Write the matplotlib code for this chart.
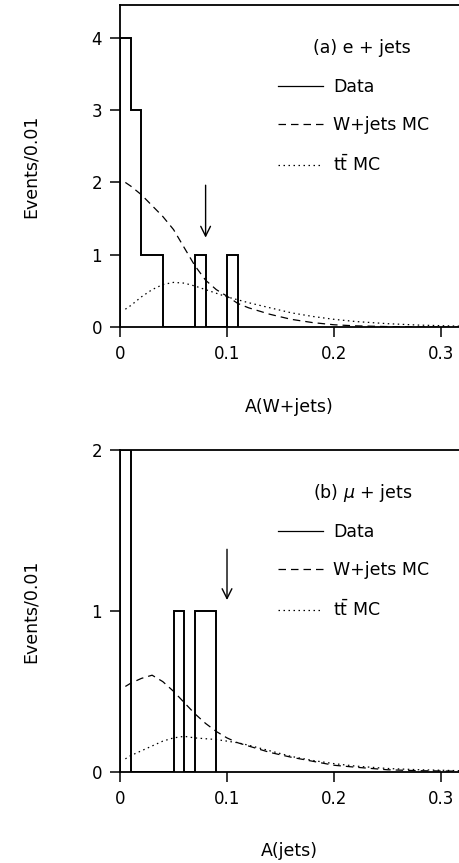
import matplotlib
matplotlib.use("Agg")
import matplotlib.pyplot as plt
from matplotlib.lines import Line2D

plt.rcParams['font.family'] = ['DejaVu Sans']
plt.rcParams['mathtext.fontset'] = 'dejavusans'

# histogram bins (width 0.01)
bin_edges_e = [0.0, 0.01, 0.02, 0.03, 0.04, 0.05, 0.06, 0.07, 0.08, 0.09, 0.10, 0.11]
counts_e = [4, 3, 1, 1, 0, 0, 0, 1, 0, 0, 1]
bin_edges_mu = [0.0, 0.01, 0.02, 0.03, 0.04, 0.05, 0.06, 0.07, 0.08, 0.09]
counts_mu = [2, 0, 0, 0, 0, 1, 0, 1, 1]

# MC curves
mc_x = [0.005, 0.01, 0.02, 0.03, 0.04, 0.05, 0.06, 0.07, 0.08, 0.09, 0.10,
        0.11, 0.12, 0.14, 0.16, 0.18, 0.20, 0.22, 0.25, 0.28, 0.32]
wjets_e = [2.0, 1.95, 1.83, 1.68, 1.53, 1.35, 1.1, 0.85, 0.65, 0.52, 0.43,
           0.33, 0.27, 0.18, 0.11, 0.065, 0.035, 0.02, 0.01, 0.005, 0.002]
ttbar_e = [0.25, 0.3, 0.42, 0.52, 0.59, 0.62, 0.61, 0.57, 0.52, 0.47, 0.42,
           0.38, 0.34, 0.27, 0.2, 0.15, 0.11, 0.08, 0.05, 0.03, 0.015]
wjets_mu = [0.53, 0.55, 0.58, 0.60, 0.56, 0.50, 0.43, 0.36, 0.30, 0.25, 0.21,
            0.18, 0.16, 0.12, 0.09, 0.065, 0.04, 0.028, 0.012, 0.006, 0.003]
ttbar_mu = [0.08, 0.1, 0.13, 0.16, 0.19, 0.21, 0.22, 0.21, 0.205, 0.2, 0.19,
            0.18, 0.165, 0.13, 0.095, 0.07, 0.05, 0.035, 0.02, 0.012, 0.006]

# cut positions (arrows)
cut_e = 0.08
cut_mu = 0.10

fig = plt.figure(figsize=(4.59, 8.63), dpi=100)
W, H = 459, 863
ax1 = fig.add_axes([120 / W, 1 - 327.3 / H, 339 / W, 322.3 / H])
ax2 = fig.add_axes([120 / W, 1 - 771.7 / H, 339 / W, 321.7 / H])

dash = (0, (6, 4))
dot = (0, (1.2, 2.8))

panels = [
    (ax1, bin_edges_e, counts_e, wjets_e, ttbar_e, 4.45, [0, 1, 2, 3, 4],
     '(a) e + jets', 'A(W+jets)', cut_e, (2.0, 1.2)),
    (ax2, bin_edges_mu, counts_mu, wjets_mu, ttbar_mu, 2.0, [0, 1, 2],
     r'(b) $\mu$ + jets', 'A(jets)', cut_mu, (1.4, 1.05)),
]

for ax, edges, counts, wj, tt, ymax, yt, title, xlab, cut, arr in panels:
    ax.stairs(counts, edges, baseline=0, color='black', lw=1.4)
    ax.plot(mc_x, wj, color='black', lw=0.9, linestyle=dash)
    ax.plot(mc_x, tt, color='black', lw=0.9, linestyle=dot)
    ax.annotate('', xy=(cut, arr[1]), xytext=(cut, arr[0]),
                arrowprops=dict(arrowstyle='->,head_length=0.7,head_width=0.35',
                                color='black', lw=1.0))
    ax.set_xlim(0, 0.3168)
    ax.set_ylim(0, ymax)
    ax.set_xticks([0, 0.1, 0.2, 0.3])
    ax.set_xticklabels(['0', '0.1', '0.2', '0.3'])
    ax.set_yticks(yt)
    ax.tick_params(direction='out', length=7, width=1.1, labelsize=12, pad=6)
    for s in ['left', 'bottom', 'top']:
        ax.spines[s].set_linewidth(1.3)
    ax.spines['right'].set_visible(False)
    ax.set_ylabel('Events/0.01', fontsize=12.5, labelpad=37)
    ax.set_xlabel(xlab, fontsize=12.5, labelpad=25)
    ax.text(0.569, 0.866, title, transform=ax.transAxes, fontsize=12.5,
            ha='left', va='center')
    handles = [Line2D([], [], color='black', lw=0.9),
               Line2D([], [], color='black', lw=0.9, linestyle=dash),
               Line2D([], [], color='black', lw=0.9, linestyle=dot)]
    ax.legend(handles, ['Data', 'W+jets MC', r't$\bar{\mathrm{t}}$ MC'],
              loc='upper left', bbox_to_anchor=(0.465, 0.772), frameon=False,
              fontsize=12.5, handlelength=2.6, handletextpad=0.6,
              labelspacing=1.15, borderpad=0, borderaxespad=0)

fig.savefig('out.png', dpi=100)
